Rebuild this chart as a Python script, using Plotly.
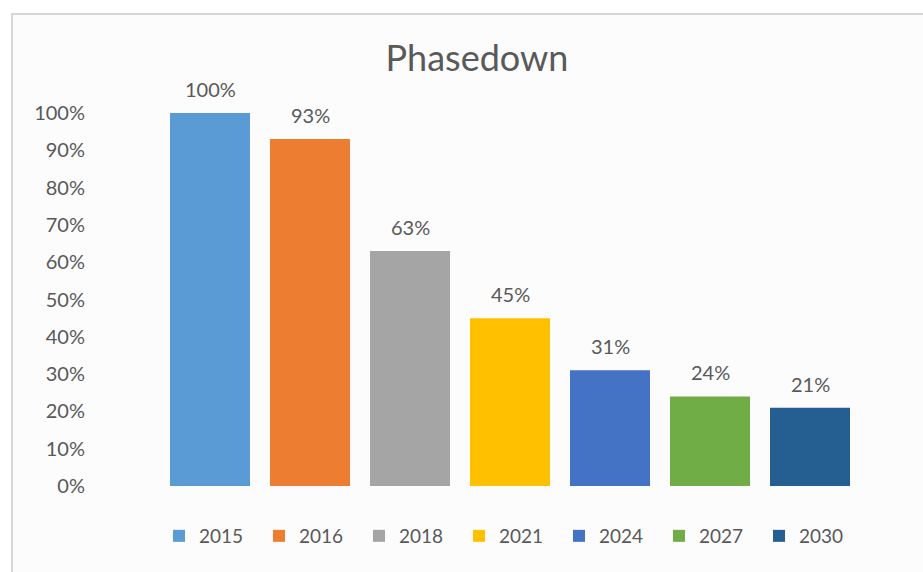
import plotly.graph_objects as go

years = ["2015", "2016", "2018", "2021", "2024", "2027", "2030"]
values = [1.00, 0.93, 0.63, 0.45, 0.31, 0.24, 0.21]
labels = ["100%", "93%", "63%", "45%", "31%", "24%", "21%"]
colors = ["#5B9BD5", "#ED7D31", "#A5A5A5", "#FFC000", "#4472C4", "#70AD47", "#255E91"]
y_ticks = [0, 0.1, 0.2, 0.3, 0.4, 0.5, 0.6, 0.7, 0.8, 0.9, 1.0]
y_ticktext = ["0%", "10%", "20%", "30%", "40%", "50%", "60%", "70%", "80%", "90%", "100%"]

W, H = 923, 572
L, R, T, B = 160, 63, 113, 86
PW, PH = W - L - R, H - T - B

FONT = "Lato, 'Noto Sans', sans-serif"
GRAY = "#595959"

fig = go.Figure()
for yr, v, c in zip(years, values, colors):
    fig.add_trace(go.Bar(x=[yr], y=[v], name=yr, marker=dict(color=c, line=dict(width=0))))

# data labels: category axis positions are the category indices
for i, (v, t) in enumerate(zip(values, labels)):
    fig.add_annotation(x=i, y=v, xref="x", yref="y", text=t, showarrow=False,
                       yshift=24, yanchor="middle",
                       font=dict(family=FONT, size=20, color=GRAY))

# chart-area border
def px_x(p):
    return (p - L) / PW

def px_y(p):
    return (H - B - p) / PH

fig.add_shape(type="rect", xref="paper", yref="paper",
              x0=px_x(12), x1=px_x(990), y0=px_y(14), y1=px_y(620),
              line=dict(color="#D6D6D6", width=2), fillcolor="#FCFCFD", layer="below")

fig.update_layout(
    width=W, height=H,
    margin=dict(l=L, r=R, t=T, b=B, autoexpand=False),
    paper_bgcolor="white", plot_bgcolor="rgba(0,0,0,0)",
    barmode="overlay", bargap=0.2,
    title=dict(text="Phasedown", x=px_x(477), xanchor="center", xref="paper",
               y=1 - 58 / H, yanchor="middle",
               font=dict(family=FONT, size=36, color=GRAY)),
    xaxis=dict(type="category", categoryorder="array", categoryarray=years,
               range=[-0.5, len(years) - 0.5],
               showticklabels=False, showgrid=False, zeroline=False, showline=False,
               ticks=""),
    yaxis=dict(range=[0, 1.0], tickvals=y_ticks, ticktext=y_ticktext, showgrid=False,
               zeroline=False, showline=False, ticklabelstandoff=74,
               tickfont=dict(family=FONT, size=20, color=GRAY)),
    legend=dict(orientation="h", x=px_x(159), xanchor="left", y=px_y(536), yanchor="middle",
                entrywidth=55, entrywidthmode="pixels", bgcolor="rgba(0,0,0,0)",
                font=dict(family=FONT, size=19, color=GRAY), traceorder="normal"),
    font=dict(family=FONT, color=GRAY),
)

fig.write_html("out.html", config={"displayModeBar": False},
               post_script="document.body.style.margin='0';")
